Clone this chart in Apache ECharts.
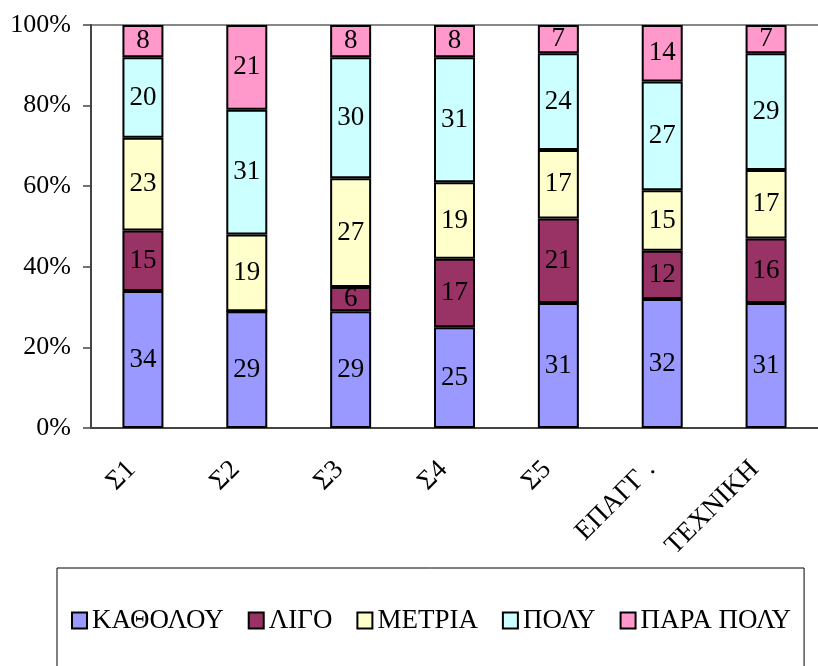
<!DOCTYPE html>
<html>
<head>
<meta charset="utf-8">
<script src="https://cdn.jsdelivr.net/npm/echarts@6/dist/echarts.min.js"></script>
<style>
  html, body { margin: 0; padding: 0; background: #fff; }
  #chart { width: 818px; height: 666px; }
</style>
</head>
<body>
<div id="chart"></div>
<script>
var categories = ["Σ1", "Σ2", "Σ3", "Σ4", "Σ5", "ΕΠΑΓΓ .", "ΤΕΧΝΙΚΗ"];
var seriesNames = ["ΚΑΘΟΛΟΥ", "ΛΙΓΟ", "ΜΕΤΡΙΑ", "ΠΟΛΥ", "ΠΑΡΑ ΠΟΛΥ"];
var kathólou = [34, 29, 29, 25, 31, 32, 31];
var ligo = [15, 0, 6, 17, 21, 12, 16];
var metria = [23, 19, 27, 19, 17, 15, 17];
var poly = [20, 31, 30, 31, 24, 27, 29];
var paraPoly = [8, 21, 8, 8, 7, 14, 7];
var yTicks = [0, 20, 40, 60, 80, 100];

var colors = ["#9999ff", "#993366", "#ffffcc", "#ccffff", "#ff99cc"];
var fontFam = "'Liberation Serif', 'Times New Roman', serif";

var chart = echarts.init(document.getElementById("chart"));

//one bar series per answer, stacked to 100%
var values = [kathólou, ligo, metria, poly, paraPoly];
var series = values.map(function (data, i) {
  return {
    name: seriesNames[i],
    type: "bar",
    stack: "all",
    barWidth: 41,
    data: data,
    itemStyle: {
      color: colors[i],
      borderColor: "#000",
      borderWidth: 2
    },
    label: {
      show: true,
      position: "inside",
      color: "#000",
      fontFamily: fontFam,
      fontSize: 27,
      formatter: function (p) {
        return p.value ? p.value : "";
      }
    }
  };
});

chart.setOption({
  animation: false,
  textStyle: { fontFamily: fontFam },
  grid: {
    left: 91,
    top: 25,
    width: 739,
    height: 403
  },
  legend: {
    left: 57,
    top: 568,
    width: 900,
    padding: [39, 13, 60, 14],
    borderColor: "#000",
    borderWidth: 1,
    itemGap: 24,
    itemWidth: 15,
    itemHeight: 16,
    icon: "rect",
    itemStyle: { borderColor: "#000", borderWidth: 2 },
    textStyle: { fontFamily: fontFam, fontSize: 27, color: "#000" },
    data: seriesNames
  },
  xAxis: {
    type: "category",
    data: categories,
    axisLine: { lineStyle: { color: "#444", width: 2 } },
    axisTick: { length: 6, lineStyle: { color: "#444", width: 1.5 } },
    axisLabel: {
      rotate: 45,
      margin: 26,
      padding: [0, 16, 0, 0],
      color: "#000",
      fontFamily: fontFam,
      fontSize: 27
    }
  },
  yAxis: {
    type: "value",
    min: yTicks[0],
    max: yTicks[yTicks.length - 1],
    interval: 20,
    axisLine: { show: true, lineStyle: { color: "#444", width: 2 } },
    axisTick: { show: true, length: 8, lineStyle: { color: "#444", width: 1.5 } },
    axisLabel: {
      margin: 20,
      color: "#000",
      fontFamily: fontFam,
      fontSize: 26,
      formatter: "{value}%"
    },
    splitLine: {
      show: true,
      lineStyle: {
        color: ["rgba(0,0,0,0)", "rgba(0,0,0,0)", "rgba(0,0,0,0)",
                "rgba(0,0,0,0)", "rgba(0,0,0,0)", "#888"],
        width: 2
      }
    }
  },
  series: series
});
</script>
</body>
</html>
